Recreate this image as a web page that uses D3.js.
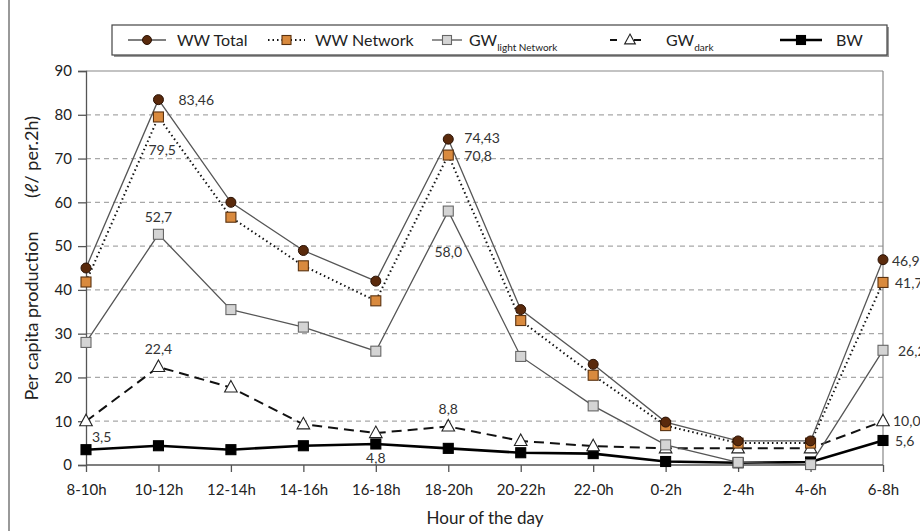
<!DOCTYPE html>
<html>
<head>
<meta charset="utf-8">
<script src="https://d3js.org/d3.v7.min.js"></script>
<style>
    body { margin: 0; background: #fff; }
    text { font-family: Lato, "Open Sans", sans-serif; fill: #222; }
</style>
</head>
<body>
<script>
    // data
    var hours = ["8-10h","10-12h","12-14h","14-16h","16-18h","18-20h","20-22h","22-0h","0-2h","2-4h","4-6h","6-8h"];
    var wwTotal   = [45, 83.46, 60, 49, 42, 74.43, 35.5, 23, 9.8, 5.5, 5.5, 46.9];
    var wwNetwork = [41.8, 79.5, 56.6, 45.5, 37.5, 70.8, 33, 20.5, 9, 5, 5, 41.7];
    var gwLight   = [28, 52.7, 35.5, 31.5, 26, 58.0, 24.8, 13.5, 4.6, 0.6, 0.1, 26.2];
    var gwDark    = [10, 22.4, 17.7, 9.3, 7.3, 8.8, 5.5, 4.3, 3.8, 3.8, 3.8, 10.0];
    var bw        = [3.5, 4.4, 3.5, 4.4, 4.8, 3.8, 2.8, 2.6, 0.8, 0.5, 0.7, 5.6];
    var yTicks = [0, 10, 20, 30, 40, 50, 60, 70, 80, 90];
    // value labels: [series, index, text, dx, dy, anchor]
    var labels = [
        ["wwTotal", 1, "83,46", 20, 5, "start"],
        ["wwNetwork", 1, "79,5", -10, 38, "start"],
        ["gwLight", 1, "52,7", 0, -12, "middle"],
        ["gwDark", 1, "22,4", 0, -13, "middle"],
        ["bw", 0, "3,5", 6, -8, "start"],
        ["wwTotal", 5, "74,43", 16, 4, "start"],
        ["wwNetwork", 5, "70,8", 16, 6, "start"],
        ["gwLight", 5, "58,0", 0, 46, "middle"],
        ["gwDark", 5, "8,8", 0, -12, "middle"],
        ["bw", 4, "4,8", 0, 19, "middle"],
        ["wwTotal", 11, "46,9", 9, 6, "start"],
        ["wwNetwork", 11, "41,7", 12, 6, "start"],
        ["gwLight", 11, "26,2", 15, 6, "start"],
        ["gwDark", 11, "10,0", 10, 5, "start"],
        ["bw", 11, "5,6", 12, 6, "start"]
    ];

    var W = 920, H = 531;
    var svg = d3.select("body").append("svg").attr("width", W).attr("height", H);

    var x = d3.scalePoint().domain(hours).range([86, 883]);
    var y = d3.scaleLinear().domain([0, 90]).range([465, 71]);

    // outer frame line on the left
    svg.append("line").attr("x1", 9).attr("x2", 9).attr("y1", 0).attr("y2", H)
        .attr("stroke", "#777").attr("stroke-width", 1.5);

    // grid
    svg.selectAll("line.grid").data(yTicks.filter(function(d) { return d > 0 && d < 90; }))
        .enter().append("line")
        .attr("class", "grid")
        .attr("x1", 86).attr("x2", 883)
        .attr("y1", function(d) { return y(d); }).attr("y2", function(d) { return y(d); })
        .attr("stroke", "#a8a8a8").attr("stroke-width", 1.2)
        .attr("stroke-dasharray", "5,4");

    // plot border top & right
    svg.append("line").attr("x1", 86).attr("x2", 883).attr("y1", y(90)).attr("y2", y(90))
        .attr("stroke", "#888").attr("stroke-width", 1.2);
    svg.append("line").attr("x1", 883).attr("x2", 883).attr("y1", y(90)).attr("y2", y(0))
        .attr("stroke", "#888").attr("stroke-width", 1.2);

    // axes
    var yAxis = svg.append("g").attr("transform", "translate(86,0)")
        .call(d3.axisLeft(y).tickValues(yTicks).tickSize(8).tickPadding(6));
    var xAxis = svg.append("g").attr("transform", "translate(0," + y(0) + ")")
        .call(d3.axisBottom(x).tickSize(7).tickPadding(12));
    [yAxis, xAxis].forEach(function(a) {
        a.select(".domain").attr("stroke", "#555").attr("stroke-width", 1.3);
        a.selectAll(".tick line").attr("stroke", "#555").attr("stroke-width", 1.3);
        a.selectAll("text").style("font-size", "15px").style("fill", "#222")
            .style("font-family", "Lato, sans-serif");
    });
    xAxis.select(".domain").attr("d", "M86,0H883");

    // axis titles
    svg.append("text").attr("x", 485).attr("y", 524).attr("text-anchor", "middle")
        .style("font-size", "17px").text("Hour of the day");
    svg.append("text")
        .attr("transform", "translate(38,316) rotate(-90)")
        .attr("text-anchor", "middle")
        .style("font-size", "18px")
        .text("Per capita production");
    svg.append("text")
        .attr("transform", "translate(38,157) rotate(-90)")
        .attr("text-anchor", "middle")
        .style("font-size", "18px")
        .text("(ℓ/ per.2h)");

    var line = d3.line().x(function(d, i) { return x(hours[i]); }).y(function(d) { return y(d); });

    var series = [
        {key: "wwTotal", vals: wwTotal, stroke: "#555", width: 1.3, dash: null, marker: "circle", fill: "#5a2a0c", mstroke: "#2a1205"},
        {key: "wwNetwork", vals: wwNetwork, stroke: "#111", width: 2, dash: "1.5,3", marker: "square", fill: "#d98a3e", mstroke: "#5a3210"},
        {key: "gwLight", vals: gwLight, stroke: "#555", width: 1.3, dash: null, marker: "square", fill: "#d4d4d4", mstroke: "#666"},
        {key: "gwDark", vals: gwDark, stroke: "#111", width: 2, dash: "10,6", marker: "triangle", fill: "#fff", mstroke: "#222"},
        {key: "bw", vals: bw, stroke: "#000", width: 2.6, dash: null, marker: "square", fill: "#000", mstroke: "#000"}
    ];
    var byKey = {};
    series.forEach(function(s) { byKey[s.key] = s; });

    function drawMarker(g, type, cx, cy, s, size) {
        var k = size || 1;
        if (type === "circle") {
            g.append("circle").attr("cx", cx).attr("cy", cy).attr("r", 5 * k)
                .attr("fill", s.fill).attr("stroke", s.mstroke).attr("stroke-width", 1);
        } else if (type === "square") {
            var a = 10 * k;
            g.append("rect").attr("x", cx - a / 2).attr("y", cy - a / 2).attr("width", a).attr("height", a)
                .attr("fill", s.fill).attr("stroke", s.mstroke).attr("stroke-width", 1.1);
        } else {
            var r = 7 * k;
            g.append("path")
                .attr("d", "M" + cx + "," + (cy - r) + "L" + (cx + r * 0.9) + "," + (cy + r * 0.65) + "L" + (cx - r * 0.9) + "," + (cy + r * 0.65) + "Z")
                .attr("fill", s.fill).attr("stroke", s.mstroke).attr("stroke-width", 1.1);
        }
    }

    // draw from bottom to top so totals sit on top
    var order = ["bw", "gwDark", "gwLight", "wwNetwork", "wwTotal"];
    order.forEach(function(k) {
        var s = byKey[k];
        svg.append("path").datum(s.vals).attr("d", line)
            .attr("fill", "none").attr("stroke", s.stroke).attr("stroke-width", s.width)
            .attr("stroke-dasharray", s.dash);
    });
    order.forEach(function(k) {
        var s = byKey[k];
        var g = svg.append("g");
        s.vals.forEach(function(v, i) { drawMarker(g, s.marker, x(hours[i]), y(v), s); });
    });

    // value labels
    svg.selectAll("text.val").data(labels).enter().append("text")
        .attr("class", "val")
        .attr("x", function(d) { return x(hours[d[1]]) + d[3]; })
        .attr("y", function(d) { return y(byKey[d[0]].vals[d[1]]) + d[4]; })
        .attr("text-anchor", function(d) { return d[5]; })
        .style("font-size", "14px").style("fill", "#333")
        .text(function(d) { return d[2]; });

    // legend
    var leg = svg.append("g");
    leg.append("rect").attr("x", 114).attr("y", 27).attr("width", 775).attr("height", 30)
        .attr("fill", "#999");
    leg.append("rect").attr("x", 112).attr("y", 25).attr("width", 775).attr("height", 30)
        .attr("fill", "#fff").attr("stroke", "#444").attr("stroke-width", 1.2);
    var legItems = [
        {key: "wwTotal", x1: 128, x2: 166, name: "WW Total", sub: null, tx: 177},
        {key: "wwNetwork", x1: 268, x2: 305, name: "WW Network", sub: null, tx: 315},
        {key: "gwLight", x1: 432, x2: 462, name: "GW", sub: "light Network", tx: 469},
        {key: "gwDark", x1: 610, x2: 650, name: "GW", sub: "dark", tx: 666},
        {key: "bw", x1: 780, x2: 822, name: "BW", sub: null, tx: 836}
    ];
    legItems.forEach(function(it) {
        var s = byKey[it.key];
        var ly = 40;
        leg.append("line").attr("x1", it.x1).attr("x2", it.x2).attr("y1", ly).attr("y2", ly)
            .attr("stroke", s.stroke).attr("stroke-width", s.width)
            .attr("stroke-dasharray", s.key === "gwDark" ? "7,17" : s.dash);
        drawMarker(leg, s.marker, (it.x1 + it.x2) / 2, ly, s, s.marker === "triangle" ? 0.85 : 0.9);
        var t = leg.append("text").attr("x", it.tx).attr("y", ly + 6).style("font-size", "16px");
        t.append("tspan").text(it.name);
        if (it.sub) {
            t.append("tspan").attr("dy", 5).style("font-size", "10px").text(it.sub);
        }
    });
</script>
</body>
</html>
